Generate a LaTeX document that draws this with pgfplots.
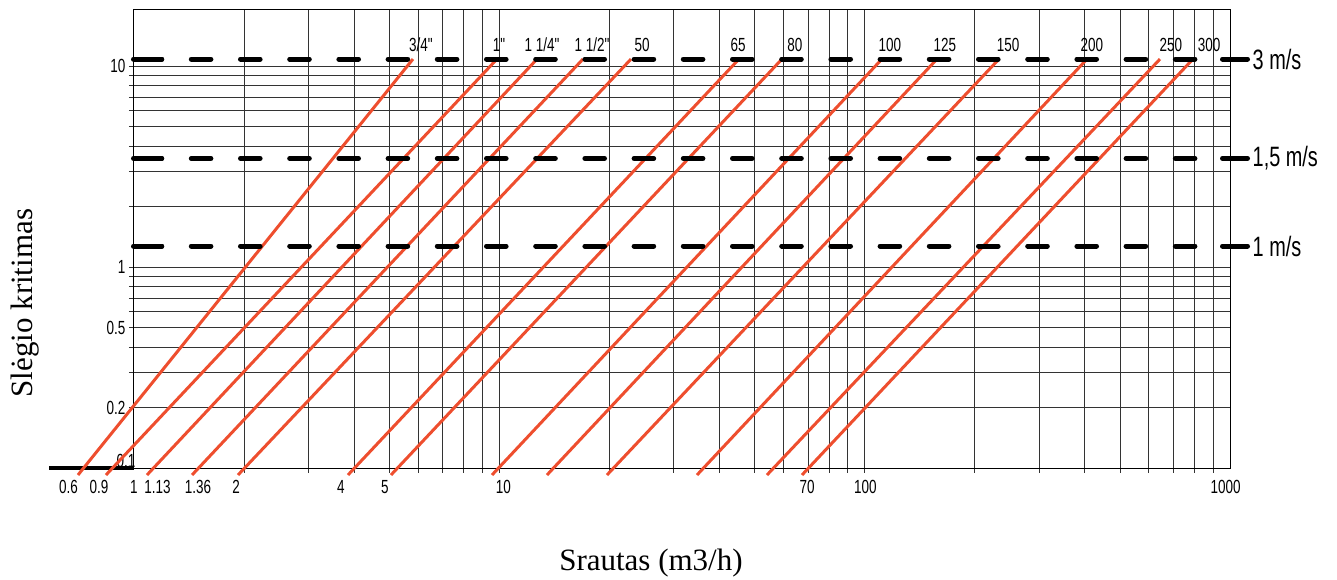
\documentclass[border=0pt]{standalone}
\usepackage{fontspec}
\setmainfont{Liberation Serif}
\newfontfamily\nar{Liberation Sans}[FakeStretch=0.71]
\usepackage{pgfplots}
\pgfplotsset{compat=1.18}
\definecolor{redl}{RGB}{238,78,46}
\newcommand{\tfont}{\nar\fontsize{19}{22}\selectfont}
\newcommand{\vfont}{\nar\fontsize{28}{32}\selectfont}
\begin{document}
\begin{tikzpicture}
\useasboundingbox (-134pt,-112pt) rectangle (1203pt,468pt);
\begin{axis}[
  at={(0pt,0pt)}, anchor=south west,
  scale only axis, width=1096pt, height=458pt,
  xmode=log, ymode=log,
  xmin=1, xmax=1000, ymin=0.1, ymax=19,
  clip=false,
  axis line style={black, line width=1pt},
  tick pos=left, tick align=outside,
  major tick length=5pt, minor tick length=5pt,
  every tick/.style={black!80, line width=0.9pt},
  xtick={2,3,4,5,6,7,8,9,10,20,30,40,50,60,70,80,90,100,200,300,400,500,600,700,800,900},
  xticklabels={},
  xmajorgrids=true, yminorgrids=true, ymajorgrids=true,
  minor grid style={black!80, line width=0.9pt},
  major grid style={black!80, line width=0.9pt},
  ytick={0.2,0.5,1,10},
  yticklabels={0.2,0.5,1,10},
  minor ytick={0.3,0.4,0.6,0.7,0.8,0.9,2,3,4,5,6,7,8,9},
  extra y ticks={0.1}, extra y tick labels={0.1},
  extra y tick style={major tick length=0pt, ymajorgrids=false, yticklabel style={xshift=5pt,yshift=7pt}},
  extra x ticks={1,1.1596,1.4973,1.9022,3.6862,4.8638,10.266,69.54,100.53,972.1},
  extra x tick labels={1,1.13,1.36,2,4,5,10,70,100,1000},
  extra x tick style={major tick length=0pt, xmajorgrids=false},
  xticklabel style={yshift=-9pt},
  ticklabel style={font=\tfont},
  /pgf/number format/assume math mode=true,
  xlabel={Srautas (m3/h)}, ylabel={Slėgio kritimas},
  xlabel style={at={(axis description cs:0.4717,-0.2074)}, anchor=center, font=\fontsize{31}{36}\selectfont},
  ylabel style={at={(axis description cs:-0.0995,0.360)}, anchor=center, font=\fontsize{31}{36}\selectfont},
]
% axis extension below 1
\addplot[black, line width=3.5pt, forget plot] coordinates {(0.5854,0.1) (1,0.1)};
% pipe size lines
\addplot[redl, line width=3pt] coordinates {(0.7026,0.0923) (5.803,10.83)};
\addplot[redl, line width=3pt] coordinates {(0.8381,0.0923) (9.854,10.83)};
\addplot[redl, line width=3pt] coordinates {(1.0853,0.0923) (12.684,10.83)};
\addplot[redl, line width=3pt] coordinates {(1.4417,0.0923) (16.944,10.83)};
\addplot[redl, line width=3pt] coordinates {(1.9263,0.0923) (22.934,10.83)};
\addplot[redl, line width=3pt] coordinates {(3.8528,0.0923) (45.29,10.83)};
\addplot[redl, line width=3pt] coordinates {(5.0517,0.0923) (59.38,10.83)};
\addplot[redl, line width=3pt] coordinates {(9.549,0.0923) (111.5,10.83)};
\addplot[redl, line width=3pt] coordinates {(13.503,0.0923) (157.8,10.83)};
\addplot[redl, line width=3pt] coordinates {(19.71,0.0923) (233.2,10.83)};
\addplot[redl, line width=3pt] coordinates {(34.76,0.0923) (406.1,10.83)};
\addplot[redl, line width=3pt] coordinates {(54.03,0.0923) (643.3,10.83)};
\addplot[redl, line width=3pt] coordinates {(67.38,0.0923) (792.0,10.83)};
% velocity lines
\addplot[black, line width=5pt, line cap=round, dash pattern=on 19.6pt off 29.6pt, dash phase=40.6pt] coordinates {(0.99685,10.83) (1116.7,10.83)};
\addplot[black, line width=5pt, line cap=round] coordinates {(0.99685,10.83) (1.1909,10.83)};
\addplot[black, line width=5pt, line cap=round] coordinates {(953.9,10.83) (1116.7,10.83)};
\addplot[black, line width=5pt, line cap=round, dash pattern=on 19.6pt off 29.6pt, dash phase=40.6pt] coordinates {(0.99685,3.47) (1116.7,3.47)};
\addplot[black, line width=5pt, line cap=round] coordinates {(0.99685,3.47) (1.1909,3.47)};
\addplot[black, line width=5pt, line cap=round] coordinates {(953.9,3.47) (1116.7,3.47)};
\addplot[black, line width=5pt, line cap=round, dash pattern=on 19.6pt off 29.6pt, dash phase=40.6pt] coordinates {(0.99685,1.272) (1116.7,1.272)};
\addplot[black, line width=5pt, line cap=round] coordinates {(0.99685,1.272) (1.1909,1.272)};
\addplot[black, line width=5pt, line cap=round] coordinates {(953.9,1.272) (1116.7,1.272)};
% labels
\node[anchor=west, inner sep=0pt, xshift=5pt, font=\vfont] at (axis cs:1116.7,10.83) {3 m/s};
\node[anchor=west, inner sep=0pt, xshift=5pt, font=\vfont] at (axis cs:1116.7,3.47) {1,5 m/s};
\node[anchor=west, inner sep=0pt, xshift=5pt, font=\vfont] at (axis cs:1116.7,1.272) {1 m/s};
\node[anchor=north, yshift=-9pt, font=\tfont] at (axis cs:0.6620,0.1) {0.6};
\node[anchor=north, yshift=-9pt, font=\tfont] at (axis cs:0.8022,0.1) {0.9};
\node[font=\tfont] at (axis cs:6.104,12.72) {3/4"};
\node[font=\tfont] at (axis cs:9.98,12.72) {1"};
\node[font=\tfont] at (axis cs:13.09,12.72) {1 1/4"};
\node[font=\tfont] at (axis cs:17.94,12.72) {1 1/2"};
\node[font=\tfont] at (axis cs:24.58,12.72) {50};
\node[font=\tfont] at (axis cs:45.02,12.72) {65};
\node[font=\tfont] at (axis cs:64.47,12.72) {80};
\node[font=\tfont] at (axis cs:117.3,12.72) {100};
\node[font=\tfont] at (axis cs:165.9,12.72) {125};
\node[font=\tfont] at (axis cs:246.9,12.72) {150};
\node[font=\tfont] at (axis cs:419.0,12.72) {200};
\node[font=\tfont] at (axis cs:689.5,12.72) {250};
\node[font=\tfont] at (axis cs:876.2,12.72) {300};
\end{axis}
\end{tikzpicture}
\end{document}
